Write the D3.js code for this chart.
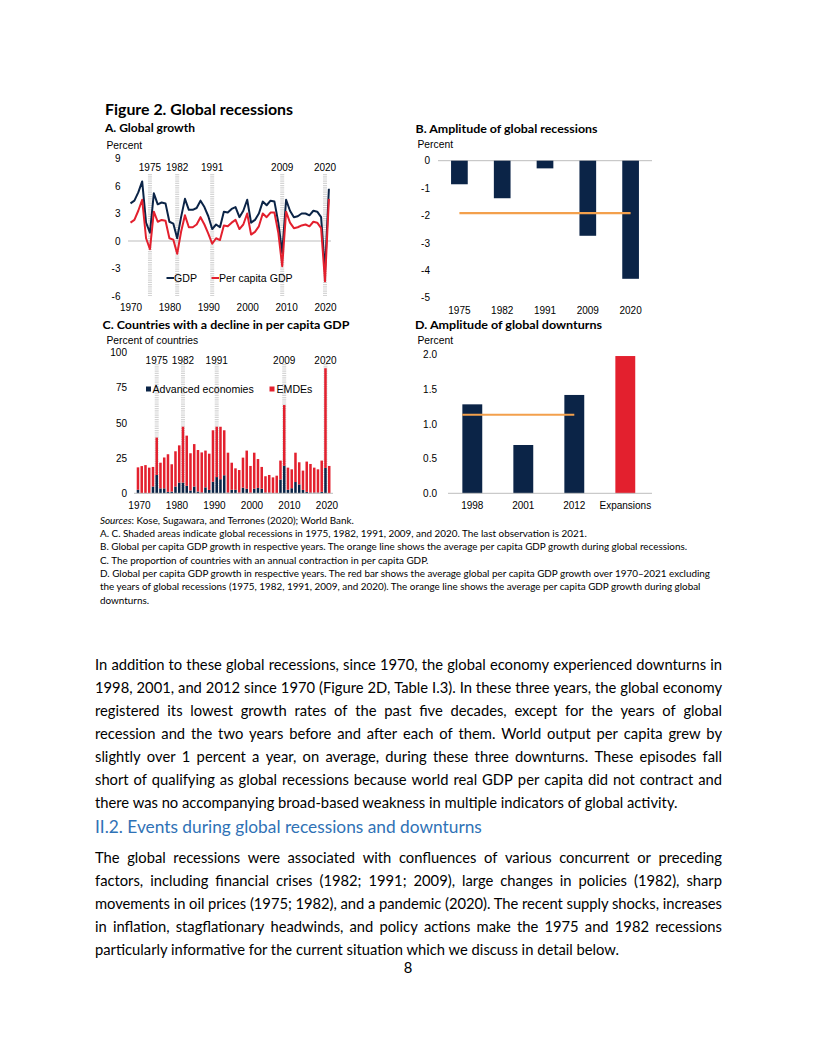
<!DOCTYPE html>
<html><head><meta charset="utf-8">
<script src="https://cdn.jsdelivr.net/npm/d3@7"></script>
<style>body{margin:0;background:#fff} svg{display:block}</style>
</head><body>
<svg id="page" width="816" height="1056"></svg>
<script>
// ---------------- DATA ----------------
const yearsA = [1970,1971,1972,1973,1974,1975,1976,1977,1978,1979,1980,1981,1982,1983,1984,1985,1986,1987,1988,1989,1990,1991,1992,1993,1994,1995,1996,1997,1998,1999,2000,2001,2002,2003,2004,2005,2006,2007,2008,2009,2010,2011,2012,2013,2014,2015,2016,2017,2018,2019,2020,2021];
const gdpGrowth = [4.1,4.4,5.3,6.5,2.0,0.9,5.2,4.0,4.2,4.1, 2.1,1.9,0.3,2.6,4.6,3.4,3.4,3.6,4.4,3.7, 2.7,1.3,1.8,1.5,3.2,3.1,3.5,3.7,2.6,3.3, 4.5,2.0,2.3,3.0,4.3,3.9,4.4,4.3,2.0,-1.3, 4.5,3.3,2.6,2.7,3.0,3.0,2.8,3.3,3.2,2.6, -3.3,5.7];
const pcGrowth = [2.0,2.3,3.3,4.5,0.3,-0.9,3.2,2.1,2.3,2.2, 0.3,0.15,-1.4,1.0,2.8,1.5,1.5,1.8,2.6,1.8, 0.8,-0.3,0.3,0.1,1.7,1.6,2.0,2.3,1.3,1.8, 3.0,0.7,1.0,1.6,3.0,2.6,3.1,3.1,0.9,-2.75, 3.2,2.0,1.4,1.5,1.7,1.8,1.6,2.1,2.0,1.4, -4.4,4.6];
const recessionYears = [1975,1982,1991,2009,2020];
const tickA_y = [-6,-3,0,3,6,9];
const tickDecades = [1970,1980,1990,2000,2010,2020];

const recCats = ["1975","1982","1991","2009","2020"];
const recAmplitude = [-0.86,-1.37,-0.28,-2.74,-4.31];
const recAverage = -1.91;
const tickB_y = [0,-1,-2,-3,-4,-5];

const advShare = [2.5,0,0,0,4.8,13,3.5,3.5,1,1.2, 4.8,7.6,7.6,5.3,2,4.8,1.2,0.6,4.2,2.4, 8.2,11.5,10,12.8,0.5,2.5,2.5,0.5,4,3.2, 0.5,3.3,3.8,3.3,0.5,0.5,0,0,9.8,19.5, 2.5,3.6,8,6.3,2.4,1,0.5,0.5,0.5,1, 18,0];
const emdeShare = [15.9,19.3,20.0,18.2,13.9,26.5,18.2,21.9,26.7,19.4, 25.0,26.4,39.6,35.6,26.4,30.1,29.5,28.4,26.1,25.7, 36.5,35.7,37.2,31.9,28.3,19.2,15.2,16.0,21.3,27.1, 18.9,25.5,20.5,15.4,11.6,12.5,11.3,12.5,13.4,43.1, 15.7,13.4,20.8,15.7,13.7,21.5,20.3,17.7,16.5,22.2, 70.7,19.4];
const tickC_y = [0,25,50,75,100];

const downCats = ["1998","2001","2012","Expansions"];
const downAmplitude = [1.28,0.695,1.415,1.975];
const downAverage = 1.13;
const tickD_y = [0,0.5,1.0,1.5,2.0];

const notesLines = [
 "A. C. Shaded areas indicate global recessions in 1975, 1982, 1991, 2009, and 2020. The last observation is 2021.",
 "B. Global per capita GDP growth in respective years. The orange line shows the average per capita GDP growth during global recessions.",
 "C. The proportion of countries with an annual contraction in per capita GDP.",
 "D. Global per capita GDP growth in respective years. The red bar shows the average global per capita GDP growth over 1970\u20132021 excluding",
 "the years of global recessions (1975, 1982, 1991, 2009, and 2020). The orange line shows the average per capita GDP growth during global",
 "downturns."
];
const para1 = [
 "In addition to these global recessions, since 1970, the global economy experienced downturns in",
 "1998, 2001, and 2012 since 1970 (Figure 2D, Table I.3). In these three years, the global economy",
 "registered its lowest growth rates of the past five decades, except for the years of global",
 "recession and the two years before and after each of them. World output per capita grew by",
 "slightly over 1 percent a year, on average, during these three downturns. These episodes fall",
 "short of qualifying as global recessions because world real GDP per capita did not contract and",
 "there was no accompanying broad-based weakness in multiple indicators of global activity."
];
const heading2 = "II.2. Events during global recessions and downturns";
const para2 = [
 "The global recessions were associated with confluences of various concurrent or preceding",
 "factors, including financial crises (1982; 1991; 2009), large changes in policies (1982), sharp",
 "movements in oil prices (1975; 1982), and a pandemic (2020). The recent supply shocks, increases",
 "in inflation, stagflationary headwinds, and policy actions make the 1975 and 1982 recessions",
 "particularly informative for the current situation which we discuss in detail below."
];

// ---------------- STYLE ----------------
const AX = "'Liberation Sans', Arial, sans-serif";
const TX = "Lato, Carlito, Calibri, sans-serif";
const NAVY = "#0b2447", RED = "#e3202e", ORANGE = "#f3a04c", ZERO = "#bdbdbd", BAND = "#d4d4d4";
const fmt = d => String(d);

const svg = d3.select("#page");
svg.append("rect").attr("width",816).attr("height",1056).attr("fill","#fff");

function txt(g, x, y, s, size, opts={}) {
  const t = g.append("text").attr("x",x).attr("y",y).text(s)
    .attr("font-family", opts.family || AX).attr("font-size", size)
    .attr("fill", opts.fill || "#000");
  if (opts.anchor) t.attr("text-anchor", opts.anchor);
  if (opts.weight) t.attr("font-weight", opts.weight);
  if (opts.len) t.attr("textLength", opts.len).attr("lengthAdjust","spacingAndGlyphs");
  return t;
}
function measure(s, size, family, weight) {
  const t = svg.append("text").attr("x",0).attr("y",-100).text(s)
    .attr("font-family",family).attr("font-size",size).attr("font-weight",weight||"normal");
  const L = t.node().getComputedTextLength(); t.remove(); return L;
}
function styleAxis(g, size) {
  g.select(".domain").remove();
  g.selectAll(".tick line").remove();
  g.selectAll("text").attr("font-family", AX).attr("font-size", size).attr("fill","#000");
}

// ---------------- TITLES ----------------
txt(svg, 105, 115, "Figure 2. Global recessions", 14.5, {family:TX, weight:"bold", len:188});
txt(svg, 105, 132, "A. Global growth", 10.5, {family:TX, weight:"bold", len:90});
txt(svg, 415.5, 133, "B. Amplitude of global recessions", 10.5, {family:TX, weight:"bold", len:182});
txt(svg, 102.5, 329, "C. Countries with a decline in per capita GDP", 10.5, {family:TX, weight:"bold", len:247});
txt(svg, 415, 329, "D. Amplitude of global downturns", 10.5, {family:TX, weight:"bold", len:187});

// ---------------- PANEL A ----------------
{
  const g = svg.append("g");
  const x = d3.scaleLinear().domain([1970,2020]).range([130.5,325]);
  const y = d3.scaleLinear().domain([-6,9]).range([296,158.5]);
  txt(g, 106.5, 148.5, "Percent", 10.3);
  g.selectAll("line.band").data(recessionYears).join("line").attr("class","band")
    .attr("x1", d=>x(d)).attr("x2", d=>x(d)).attr("y1",174).attr("y2",y(-6))
    .attr("stroke",BAND).attr("stroke-width",4).attr("stroke-dasharray","1.2,1");
  g.selectAll("text.rec").data(recessionYears).join("text").attr("class","rec")
    .attr("x", d=>x(d)).attr("y",170.5).attr("text-anchor","middle").text(d=>d)
    .attr("font-family",AX).attr("font-size",10);
  g.append("line").attr("x1",128).attr("x2",331).attr("y1",y(0)).attr("y2",y(0))
    .attr("stroke",ZERO).attr("stroke-width",1);
  g.append("g").attr("transform","translate(120.5,0)")
    .call(d3.axisLeft(y).tickValues(tickA_y).tickFormat(fmt).tickSize(0).tickPadding(0)).call(a=>styleAxis(a,10));
  g.append("g").attr("transform","translate(0,304)")
    .call(d3.axisBottom(x).tickValues(tickDecades).tickFormat(fmt).tickSize(0).tickPadding(0)).call(a=>styleAxis(a,10));
  const ln = vals => d3.line().x((d,i)=>x(yearsA[i])).y(d=>y(d))(vals);
  g.append("path").attr("d", ln(gdpGrowth)).attr("fill","none").attr("stroke",NAVY).attr("stroke-width",2).attr("stroke-linejoin","round");
  g.append("path").attr("d", ln(pcGrowth)).attr("fill","none").attr("stroke",RED).attr("stroke-width",2).attr("stroke-linejoin","round");
  g.append("line").attr("x1",166.5).attr("x2",174).attr("y1",278).attr("y2",278).attr("stroke",NAVY).attr("stroke-width",2);
  txt(g, 174, 281.8, "GDP", 10.6);
  g.append("line").attr("x1",211.5).attr("x2",219).attr("y1",278).attr("y2",278).attr("stroke",RED).attr("stroke-width",2);
  txt(g, 219, 281.8, "Per capita GDP", 10.6);
}

// ---------------- PANEL B ----------------
{
  const g = svg.append("g");
  const x = d3.scaleBand().domain(recCats).range([438,652]).paddingInner(0.61).paddingOuter(0.305);
  const y = d3.scaleLinear().domain([-5,0]).range([297.7,160.7]);
  txt(g, 417.5, 148, "Percent", 10.3);
  g.append("line").attr("x1",438).attr("x2",652).attr("y1",y(0)).attr("y2",y(0)).attr("stroke",ZERO);
  g.selectAll("rect").data(recAmplitude).join("rect")
    .attr("x",(d,i)=>x(recCats[i])).attr("width",x.bandwidth())
    .attr("y",y(0)).attr("height",d=>y(d)-y(0)).attr("fill",NAVY);
  g.append("line")
    .attr("x1", x(recCats[0])+x.bandwidth()/2).attr("x2", x(recCats[4])+x.bandwidth()/2)
    .attr("y1", y(recAverage)).attr("y2", y(recAverage)).attr("stroke",ORANGE).attr("stroke-width",2.2);
  g.append("g").attr("transform","translate(430,0)")
    .call(d3.axisLeft(y).tickValues(tickB_y).tickFormat(fmt).tickSize(0).tickPadding(0)).call(a=>styleAxis(a,10));
  g.append("g").attr("transform","translate(0,306.5)")
    .call(d3.axisBottom(x).tickSize(0).tickPadding(0)).call(a=>styleAxis(a,10));
}

// ---------------- PANEL C ----------------
{
  const g = svg.append("g");
  const x = d3.scaleBand().domain(yearsA).range([136.1,331.1]).paddingInner(0.33).paddingOuter(0.165);
  const y = d3.scaleLinear().domain([0,100]).range([493.3,352.3]);
  txt(g, 106.5, 343.5, "Percent of countries", 10.3);
  g.selectAll("line.band").data(recessionYears).join("line").attr("class","band")
    .attr("x1", d=>x(d)+x.bandwidth()/2).attr("x2", d=>x(d)+x.bandwidth()/2).attr("y1",364).attr("y2",y(0))
    .attr("stroke",BAND).attr("stroke-width",4).attr("stroke-dasharray","1.2,1");
  g.selectAll("text.rec").data(recessionYears).join("text").attr("class","rec")
    .attr("x", d=>x(d)+x.bandwidth()/2).attr("y",363.5).attr("text-anchor","middle").text(d=>d)
    .attr("font-family",AX).attr("font-size",10);
  const rows = yearsA.map((yr,i)=>({year:yr, adv:advShare[i], emde:emdeShare[i]}));
  const stack = d3.stack().keys(["adv","emde"])(rows);
  const col = {adv:NAVY, emde:RED};
  g.selectAll("g.ser").data(stack).join("g").attr("class","ser").attr("fill",d=>col[d.key])
    .selectAll("rect").data(d=>d).join("rect")
    .attr("x",d=>x(d.data.year)).attr("width",x.bandwidth())
    .attr("y",d=>y(d[1])).attr("height",d=>y(d[0])-y(d[1]));
  g.append("line").attr("x1",134).attr("x2",333).attr("y1",y(0)).attr("y2",y(0)).attr("stroke",ZERO);
  g.append("g").attr("transform","translate(127,0)")
    .call(d3.axisLeft(y).tickValues(tickC_y).tickFormat(fmt).tickSize(0).tickPadding(0)).call(a=>styleAxis(a,10));
  g.append("g").attr("transform","translate(1.5,502)")
    .call(d3.axisBottom(x).tickValues(tickDecades).tickFormat(fmt).tickSize(0).tickPadding(0)).call(a=>styleAxis(a,10));
  g.append("rect").attr("x",146).attr("y",386.5).attr("width",5).attr("height",5).attr("fill",NAVY);
  txt(g, 152.5, 392.5, "Advanced economies", 10.6);
  g.append("rect").attr("x",269.5).attr("y",386.5).attr("width",5).attr("height",5).attr("fill",RED);
  txt(g, 276.5, 392.5, "EMDEs", 10.6);
}

// ---------------- PANEL D ----------------
{
  const g = svg.append("g");
  const x = d3.scaleBand().domain(downCats).range([446.8,650.8]).paddingInner(0.61).paddingOuter(0.305);
  const y = d3.scaleLinear().domain([0,2]).range([493.3,354.3]);
  txt(g, 417.5, 343.5, "Percent", 10.3);
  g.selectAll("rect").data(downAmplitude).join("rect")
    .attr("x",(d,i)=>x(downCats[i])).attr("width",x.bandwidth())
    .attr("y",d=>y(d)).attr("height",d=>y(0)-y(d))
    .attr("fill",(d,i)=> downCats[i]==="Expansions" ? RED : NAVY);
  g.append("line").attr("x1",448).attr("x2",652).attr("y1",y(0)).attr("y2",y(0)).attr("stroke",ZERO);
  g.append("line")
    .attr("x1", x(downCats[0])).attr("x2", x(downCats[2])+x.bandwidth()/2)
    .attr("y1", y(downAverage)).attr("y2", y(downAverage)).attr("stroke",ORANGE).attr("stroke-width",2.2);
  g.append("g").attr("transform","translate(437,0)")
    .call(d3.axisLeft(y).tickValues(tickD_y).tickFormat(d=>d.toFixed(1)).tickSize(0).tickPadding(0)).call(a=>styleAxis(a,10));
  g.append("g").attr("transform","translate(0,502)")
    .call(d3.axisBottom(x).tickSize(0).tickPadding(0)).call(a=>styleAxis(a,10));
}

// ---------------- NOTES ----------------
{
  const g = svg.append("g");
  const L = measure(notesLines[3], 10, TX);
  const fs = 10 * 611 / L;
  const nx = 100, ny0 = 523.5, dy = 13.35;
  const s = g.append("text").attr("x",nx).attr("y",ny0).attr("font-family",TX).attr("font-size",fs);
  s.append("tspan").attr("font-style","italic").text("Sources");
  s.append("tspan").text(": Kose, Sugawara, and Terrones (2020); World Bank.");
  notesLines.forEach((l,i)=> txt(g, nx, ny0 + dy*(i+1), l, fs, {family:TX}));
}

// ---------------- BODY TEXT ----------------
function justLine(g, str, x0, y, w, justify, size) {
  const mk = s => g.append("text").attr("y",y).text(s).attr("font-family",TX).attr("font-size",size).attr("fill","#000");
  if (!justify) { mk(str).attr("x",x0); return; }
  const full = mk(str).attr("x",x0);
  const natural = full.node().getComputedTextLength();
  const words = str.split(" ");
  const parts = words.map(wd=>mk(wd));
  const ws = parts.map(p=>p.node().getComputedTextLength());
  const gap = (w - d3.sum(ws)) / (words.length-1);
  if (gap < 2 || natural > w) {
    parts.forEach(p=>p.remove());
    full.attr("textLength", w).attr("lengthAdjust","spacing");
    return;
  }
  full.remove();
  let cx = x0;
  parts.forEach((p,i)=>{ p.attr("x",cx); cx += ws[i] + gap; });
}
{
  const g = svg.append("g");
  const bx = 95, bw = 627, lh = 23;
  const L1 = measure(para1[6], 14, TX), L2 = measure(para2[4], 14, TX);
  const size = 14 * (578 + 530) / (L1 + L2);
  para1.forEach((l,i)=> justLine(g, l, bx, 669.5 + i*lh, bw, i < para1.length-1, size));
  const hL = measure(heading2, 17, TX);
  txt(g, bx, 833, heading2, 17 * 387 / hL, {family:TX, fill:"#2f72b6"});
  para2.forEach((l,i)=> justLine(g, l, bx, 862.5 + i*lh, bw, i < para2.length-1, size));
  txt(g, 408, 973, "8", size, {family:TX, anchor:"middle"});
}
</script>
</body></html>
